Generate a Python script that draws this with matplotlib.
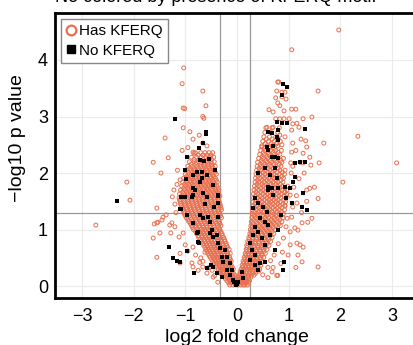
import numpy as np
import matplotlib.pyplot as plt
from matplotlib.lines import Line2D

plt.rcParams['font.family'] = ['Liberation Sans', 'DejaVu Sans']

# dense part of the left arm, read row by row: (y, x values)
left_core = [
    (0.02, [-0.14, -0.08, -0.03, 0.02, 0.07, 0.12]),
    (0.09, [-0.19, -0.13, -0.07, -0.01, 0.05, 0.10]),
    (0.16, [-0.25, -0.19, -0.13, -0.07, -0.02]),
    (0.23, [-0.31, -0.25, -0.19, -0.13, -0.07]),
    (0.30, [-0.36, -0.30, -0.24, -0.18, -0.12, -0.07]),
    (0.37, [-0.41, -0.35, -0.29, -0.23, -0.17, -0.11]),
    (0.44, [-0.47, -0.41, -0.34, -0.28, -0.22, -0.16, -0.11]),
    (0.51, [-0.52, -0.45, -0.39, -0.33, -0.27, -0.21, -0.14]),
    (0.58, [-0.56, -0.50, -0.44, -0.37, -0.31, -0.25, -0.18, -0.13]),
    (0.65, [-0.60, -0.54, -0.47, -0.41, -0.35, -0.29, -0.22, -0.15]),
    (0.72, [-0.64, -0.58, -0.52, -0.45, -0.39, -0.33, -0.27, -0.20]),
    (0.79, [-0.69, -0.62, -0.55, -0.49, -0.43, -0.36, -0.30, -0.23]),
    (0.86, [-0.74, -0.67, -0.60, -0.53, -0.47, -0.40, -0.33, -0.26]),
    (0.93, [-0.78, -0.71, -0.64, -0.58, -0.51, -0.44, -0.37, -0.29]),
    (1.00, [-0.84, -0.76, -0.69, -0.62, -0.55, -0.48, -0.41, -0.33]),
    (1.07, [-0.88, -0.81, -0.73, -0.66, -0.59, -0.52, -0.45, -0.38, -0.31]),
    (1.14, [-0.93, -0.86, -0.78, -0.70, -0.63, -0.56, -0.49, -0.42, -0.34]),
    (1.21, [-0.98, -0.90, -0.82, -0.75, -0.67, -0.60, -0.53, -0.45, -0.37, -0.30]),
    (1.28, [-1.02, -0.94, -0.86, -0.79, -0.71, -0.64, -0.56, -0.49, -0.41, -0.33]),
    (1.35, [-1.05, -0.97, -0.89, -0.82, -0.74, -0.67, -0.59, -0.52, -0.44, -0.36, -0.30]),
    (1.42, [-1.08, -1.00, -0.92, -0.84, -0.77, -0.70, -0.62, -0.55, -0.47, -0.39, -0.32]),
    (1.49, [-1.10, -1.02, -0.94, -0.87, -0.79, -0.72, -0.65, -0.57, -0.50, -0.42, -0.34]),
    (1.56, [-1.12, -1.04, -0.96, -0.88, -0.81, -0.74, -0.66, -0.59, -0.52, -0.44, -0.36]),
    (1.63, [-1.11, -1.03, -0.95, -0.87, -0.80, -0.72, -0.65, -0.58, -0.50, -0.42, -0.35]),
    (1.70, [-1.09, -1.01, -0.93, -0.86, -0.78, -0.71, -0.63, -0.56, -0.48, -0.41, -0.35]),
    (1.77, [-1.07, -0.99, -0.91, -0.84, -0.76, -0.69, -0.61, -0.54, -0.47, -0.39]),
    (1.84, [-1.05, -0.97, -0.89, -0.82, -0.74, -0.67, -0.60, -0.52, -0.45, -0.38]),
    (1.91, [-1.03, -0.95, -0.87, -0.79, -0.72, -0.65, -0.57, -0.50, -0.42]),
    (1.98, [-1.00, -0.92, -0.84, -0.77, -0.69, -0.62, -0.54, -0.47, -0.40]),
    (2.05, [-0.98, -0.89, -0.81, -0.73, -0.66, -0.58, -0.51, -0.44]),
    (2.12, [-0.95, -0.86, -0.78, -0.70, -0.63, -0.55, -0.48, -0.42]),
    (2.20, [-0.92, -0.83, -0.74, -0.66, -0.58, -0.50, -0.44]),
    (2.28, [-0.88, -0.78, -0.69, -0.60, -0.52, -0.45]),
    (2.36, [-0.80, -0.70, -0.62, -0.54, -0.47]),
]

# in-between rows of the left arm
left_core_b = [
    (0.055, [-0.16, -0.11, -0.05, 0.00, 0.05, 0.10]),
    (0.125, [-0.22, -0.16, -0.10, -0.04, 0.02, 0.08]),
    (0.195, [-0.28, -0.22, -0.16, -0.10, -0.04]),
    (0.265, [-0.33, -0.27, -0.21, -0.15, -0.09]),
    (0.335, [-0.39, -0.33, -0.27, -0.21, -0.15, -0.09]),
    (0.405, [-0.44, -0.38, -0.32, -0.26, -0.20, -0.14]),
    (0.475, [-0.49, -0.43, -0.37, -0.31, -0.25, -0.19, -0.13]),
    (0.545, [-0.54, -0.48, -0.42, -0.36, -0.30, -0.24, -0.17]),
    (0.615, [-0.58, -0.52, -0.46, -0.39, -0.33, -0.27, -0.20]),
    (0.685, [-0.62, -0.56, -0.50, -0.43, -0.37, -0.31, -0.24, -0.18]),
    (0.755, [-0.66, -0.60, -0.53, -0.47, -0.41, -0.34, -0.28, -0.21]),
    (0.825, [-0.71, -0.64, -0.57, -0.51, -0.44, -0.37, -0.31, -0.24]),
    (0.895, [-0.75, -0.68, -0.62, -0.55, -0.48, -0.42, -0.35, -0.28]),
    (0.965, [-0.80, -0.73, -0.66, -0.60, -0.53, -0.46, -0.39, -0.31]),
    (1.035, [-0.86, -0.79, -0.72, -0.65, -0.58, -0.51, -0.44, -0.36]),
    (1.105, [-0.90, -0.83, -0.76, -0.68, -0.61, -0.54, -0.47, -0.40, -0.33]),
    (1.175, [-0.95, -0.88, -0.80, -0.72, -0.65, -0.58, -0.51, -0.44, -0.36]),
    (1.245, [-1.00, -0.92, -0.84, -0.77, -0.69, -0.62, -0.55, -0.47, -0.40, -0.32]),
    (1.315, [-1.03, -0.95, -0.88, -0.80, -0.73, -0.66, -0.58, -0.51, -0.43, -0.35]),
    (1.385, [-1.06, -0.98, -0.91, -0.83, -0.76, -0.68, -0.61, -0.53, -0.46, -0.38, -0.31]),
    (1.455, [-1.09, -1.01, -0.93, -0.86, -0.78, -0.71, -0.63, -0.56, -0.48, -0.40, -0.33]),
    (1.525, [-1.11, -1.03, -0.95, -0.88, -0.80, -0.73, -0.66, -0.58, -0.51, -0.43, -0.35]),
    (1.595, [-1.07, -1.00, -0.92, -0.84, -0.77, -0.70, -0.62, -0.55, -0.48, -0.40, -0.33]),
    (1.665, [-1.05, -0.97, -0.90, -0.82, -0.75, -0.68, -0.60, -0.53, -0.45, -0.38]),
    (1.735, [-1.03, -0.95, -0.88, -0.80, -0.73, -0.65, -0.58, -0.51, -0.43, -0.36]),
    (1.805, [-1.01, -0.93, -0.86, -0.78, -0.71, -0.64, -0.56, -0.49, -0.42]),
    (1.875, [-0.99, -0.91, -0.84, -0.76, -0.69, -0.62, -0.54, -0.47, -0.40]),
    (1.945, [-0.97, -0.89, -0.81, -0.74, -0.67, -0.59, -0.52, -0.45]),
    (2.015, [-0.94, -0.86, -0.78, -0.71, -0.63, -0.56, -0.49, -0.42]),
    (2.085, [-0.91, -0.83, -0.75, -0.67, -0.60, -0.53, -0.46]),
    (2.160, [-0.88, -0.80, -0.71, -0.63, -0.56, -0.49]),
    (2.240, [-0.83, -0.74, -0.65, -0.56, -0.49]),
    (2.320, [-0.75, -0.66, -0.58, -0.50]),
]

# dense part of the right arm
right_core = [
    (0.02, [0.15, 0.20]),
    (0.09, [0.14, 0.19, 0.24]),
    (0.16, [0.04, 0.09, 0.15, 0.21, 0.27]),
    (0.23, [0.06, 0.12, 0.18, 0.24, 0.30, 0.36]),
    (0.30, [0.08, 0.14, 0.20, 0.26, 0.32, 0.38, 0.44]),
    (0.37, [0.10, 0.16, 0.22, 0.28, 0.34, 0.40, 0.46]),
    (0.44, [0.12, 0.18, 0.24, 0.30, 0.36, 0.42, 0.49]),
    (0.51, [0.14, 0.20, 0.26, 0.32, 0.38, 0.45, 0.52]),
    (0.58, [0.16, 0.22, 0.28, 0.34, 0.41, 0.48, 0.55]),
    (0.65, [0.18, 0.24, 0.30, 0.37, 0.44, 0.51, 0.58]),
    (0.72, [0.19, 0.26, 0.33, 0.40, 0.47, 0.54, 0.62]),
    (0.79, [0.21, 0.28, 0.35, 0.42, 0.49, 0.57, 0.65]),
    (0.86, [0.23, 0.30, 0.37, 0.44, 0.52, 0.60, 0.68]),
    (0.93, [0.25, 0.32, 0.39, 0.47, 0.55, 0.63, 0.71]),
    (1.00, [0.26, 0.33, 0.41, 0.49, 0.57, 0.65, 0.74]),
    (1.07, [0.27, 0.35, 0.43, 0.51, 0.59, 0.67, 0.76, 0.84]),
    (1.14, [0.28, 0.36, 0.44, 0.52, 0.61, 0.69, 0.78, 0.87]),
    (1.21, [0.29, 0.37, 0.45, 0.54, 0.62, 0.71, 0.80, 0.89]),
    (1.28, [0.30, 0.38, 0.46, 0.55, 0.63, 0.72, 0.81, 0.90]),
    (1.35, [0.30, 0.38, 0.47, 0.56, 0.64, 0.73, 0.82, 0.92]),
    (1.42, [0.31, 0.39, 0.48, 0.57, 0.65, 0.74, 0.83, 0.93]),
    (1.49, [0.31, 0.40, 0.49, 0.58, 0.66, 0.75, 0.84, 0.94]),
    (1.56, [0.32, 0.40, 0.49, 0.58, 0.67, 0.76, 0.85, 0.95]),
    (1.63, [0.32, 0.41, 0.50, 0.59, 0.68, 0.77, 0.86, 0.96]),
    (1.70, [0.33, 0.42, 0.51, 0.60, 0.69, 0.78, 0.87, 0.97]),
    (1.77, [0.34, 0.42, 0.51, 0.60, 0.69, 0.78, 0.88, 0.98]),
    (1.84, [0.35, 0.43, 0.52, 0.61, 0.70, 0.79, 0.89]),
    (1.91, [0.36, 0.44, 0.53, 0.62, 0.71, 0.80, 0.90]),
    (1.98, [0.37, 0.45, 0.54, 0.63, 0.72, 0.82, 0.92]),
    (2.05, [0.38, 0.46, 0.55, 0.64, 0.73, 0.83, 0.93]),
    (2.12, [0.39, 0.47, 0.56, 0.65, 0.75, 0.85]),
    (2.19, [0.40, 0.49, 0.58, 0.67, 0.77, 0.87]),
    (2.26, [0.42, 0.51, 0.60, 0.70, 0.80, 0.90]),
    (2.33, [0.44, 0.53, 0.62, 0.72, 0.83]),
    (2.40, [0.46, 0.55, 0.65, 0.75, 0.86]),
    (2.48, [0.48, 0.58, 0.68, 0.79]),
    (2.56, [0.50, 0.61, 0.72, 0.84]),
    (2.64, [0.52, 0.63, 0.75]),
    (2.72, [0.54, 0.66, 0.79]),
    (2.80, [0.56, 0.68, 0.82]),
]

# in-between rows of the right arm
right_core_b = [
    (0.055, [0.12, 0.17, 0.22]),
    (0.125, [0.06, 0.12, 0.17, 0.22]),
    (0.195, [0.05, 0.10, 0.16, 0.22, 0.28, 0.33]),
    (0.265, [0.07, 0.13, 0.19, 0.25, 0.31, 0.37, 0.42]),
    (0.335, [0.11, 0.17, 0.23, 0.29, 0.35, 0.41]),
    (0.405, [0.13, 0.19, 0.25, 0.31, 0.37, 0.43]),
    (0.475, [0.15, 0.21, 0.27, 0.33, 0.39, 0.46]),
    (0.545, [0.17, 0.23, 0.29, 0.35, 0.42, 0.49]),
    (0.615, [0.19, 0.25, 0.31, 0.38, 0.45, 0.52]),
    (0.685, [0.20, 0.27, 0.34, 0.41, 0.48, 0.55]),
    (0.755, [0.22, 0.29, 0.36, 0.43, 0.51, 0.59]),
    (0.825, [0.24, 0.31, 0.38, 0.46, 0.54, 0.62]),
    (0.895, [0.26, 0.33, 0.41, 0.49, 0.57, 0.65]),
    (0.965, [0.28, 0.36, 0.44, 0.52, 0.60, 0.68]),
    (1.035, [0.30, 0.38, 0.46, 0.54, 0.62, 0.70, 0.79]),
    (1.105, [0.31, 0.39, 0.47, 0.56, 0.64, 0.72, 0.81]),
    (1.175, [0.32, 0.40, 0.49, 0.57, 0.66, 0.74, 0.83]),
    (1.245, [0.33, 0.41, 0.50, 0.58, 0.67, 0.76, 0.85]),
    (1.315, [0.34, 0.42, 0.51, 0.59, 0.68, 0.77, 0.86]),
    (1.385, [0.34, 0.43, 0.52, 0.60, 0.69, 0.78, 0.87]),
    (1.455, [0.35, 0.44, 0.53, 0.62, 0.70, 0.79, 0.89]),
    (1.525, [0.35, 0.44, 0.53, 0.62, 0.71, 0.80, 0.90]),
    (1.595, [0.36, 0.45, 0.54, 0.63, 0.72, 0.81, 0.91]),
    (1.665, [0.37, 0.46, 0.55, 0.64, 0.73, 0.82, 0.92]),
    (1.735, [0.38, 0.47, 0.56, 0.65, 0.74, 0.83, 0.93]),
    (1.805, [0.39, 0.48, 0.57, 0.66, 0.75, 0.84]),
    (1.875, [0.40, 0.49, 0.58, 0.67, 0.76, 0.85]),
    (1.945, [0.41, 0.50, 0.59, 0.68, 0.77, 0.87]),
    (2.015, [0.42, 0.51, 0.60, 0.69, 0.78, 0.88]),
    (2.085, [0.43, 0.52, 0.61, 0.70, 0.80]),
    (2.155, [0.45, 0.54, 0.63, 0.72, 0.82]),
    (2.225, [0.47, 0.56, 0.65, 0.75, 0.85]),
    (2.295, [0.49, 0.58, 0.67, 0.77]),
    (2.365, [0.51, 0.60, 0.70, 0.80]),
    (2.440, [0.53, 0.63, 0.73]),
    (2.520, [0.55, 0.66, 0.77]),
    (2.600, [0.57, 0.68, 0.80]),
]

# scattered "Has KFERQ" points (x, y)
has_left_sparse = [
    (-1.03, 3.86), (-1.06, 3.58), (-0.66, 3.45), (-1.04, 3.15), (-1.01, 3.14),
    (-0.60, 3.19), (-0.64, 2.97), (-0.66, 3.00), (-1.04, 2.80), (-0.91, 2.73),
    (-1.39, 2.62), (-0.73, 2.67), (-0.85, 2.60), (-0.66, 2.53), (-1.06, 2.40),
    (-1.33, 2.27), (-1.62, 2.19), (-0.95, 2.45), (-0.58, 2.48), (-0.85, 2.37),
    (-0.83, 2.35), (-1.47, 2.00), (-1.16, 1.80), (-1.10, 1.88), (-2.13, 1.84),
    (-2.07, 1.52), (-2.73, 1.08), (-1.62, 0.85), (-1.60, 1.10), (-1.55, 1.38),
    (-1.55, 1.12), (-1.53, 1.13), (-1.45, 1.17), (-1.43, 1.22), (-1.37, 1.26),
    (-1.30, 1.08), (-1.26, 1.12), (-1.20, 1.05), (-1.49, 0.94), (-1.28, 0.94),
    (-1.55, 0.51), (-1.10, 0.58), (-1.00, 0.73), (-0.85, 0.69), (-0.87, 0.41),
    (-0.75, 0.28), (-0.66, 0.34), (-0.58, 0.23), (-0.72, 0.42), (-0.66, 0.44),
    (-1.10, 0.41), (-1.12, 0.87), (-1.04, 0.94), (-0.52, 0.34), (-0.48, 0.28),
    (-0.46, 0.16), (-0.85, 0.34), (-0.56, 0.32), (-0.43, 0.19), (-0.37, 0.07),
    (-0.33, 0.23), (-1.20, 1.45), (-1.25, 1.58), (-1.18, 1.30), (-0.95, 0.62),
    (-0.80, 0.55), (-0.70, 0.50), (-0.62, 0.60), (-1.15, 2.05), (-1.22, 1.70),
]

has_right_sparse = [
    (1.97, 4.53), (1.06, 4.18), (0.81, 3.61), (1.57, 3.45), (2.34, 2.65),
    (3.09, 2.18), (1.45, 2.99), (1.68, 2.53), (1.28, 2.96), (2.05, 1.84),
    (0.79, 3.61), (0.77, 3.45), (0.75, 3.33), (0.62, 3.12), (0.70, 3.08),
    (0.87, 3.43), (0.93, 3.43), (0.87, 3.35), (0.95, 3.31), (0.79, 3.24),
    (0.83, 3.19), (0.91, 3.10), (1.06, 3.13), (1.14, 3.13), (0.75, 2.96),
    (0.83, 2.96), (0.91, 2.96), (1.01, 2.96), (1.08, 2.87), (1.16, 2.88),
    (1.20, 2.81), (0.58, 2.81), (0.70, 2.81), (1.06, 2.76), (0.83, 2.67),
    (0.93, 2.64), (1.24, 2.60), (1.33, 2.57), (0.48, 2.46), (0.77, 2.53),
    (0.87, 2.50), (1.08, 2.53), (1.35, 2.46), (1.06, 2.37), (1.14, 2.40),
    (1.28, 2.35), (1.41, 2.28), (1.59, 2.18), (1.43, 2.14), (1.22, 2.19),
    (1.28, 2.18), (1.04, 2.18), (1.08, 2.12), (1.45, 1.20), (1.37, 1.13),
    (1.16, 0.76), (1.22, 0.73), (1.28, 0.69), (1.18, 0.55), (0.99, 0.55),
    (1.03, 0.73), (0.77, 0.19), (0.60, 0.33), (0.68, 0.25), (1.26, 0.43),
    (1.03, 0.96), (1.12, 1.03), (1.18, 0.99), (1.26, 1.12), (0.97, 1.20),
    (1.06, 1.22), (0.93, 1.43), (1.08, 1.40), (1.16, 1.47), (1.03, 1.61),
    (0.93, 1.66), (1.41, 1.73), (1.35, 1.70), (1.57, 1.55), (1.50, 1.75),
    (1.57, 0.34), (1.14, 0.33), (0.79, 0.19), (0.70, 0.33), (0.88, 0.60),
    (0.80, 0.75), (0.90, 0.85), (0.95, 1.05), (1.10, 1.75), (1.20, 1.90),
    (1.30, 2.00), (1.05, 2.00), (1.15, 1.60), (1.25, 1.30), (1.35, 1.50),
    (0.60, 0.15), (0.50, 0.20), (0.65, 0.45), (0.72, 0.55), (0.85, 0.40),
]

# "No KFERQ" points (x, y)
no_left = [
    (-1.20, 2.96), (-2.32, 1.50), (-0.60, 2.72), (-0.60, 2.69), (-0.97, 2.28),
    (-0.73, 2.44), (-1.32, 0.69), (-1.24, 0.50), (-1.16, 0.44), (-0.97, 0.62),
    (-0.83, 0.23), (-0.73, 0.76), (-1.08, 1.36), (-0.77, 0.94), (-1.10, 0.42),
    (-0.66, 2.53), (-0.72, 2.23), (-0.64, 2.21), (-0.54, 2.25), (-0.43, 2.05),
    (-0.68, 2.02), (-1.00, 2.05), (-0.85, 1.96), (-0.58, 1.96), (-0.72, 1.84),
    (-0.99, 1.89), (-0.46, 1.79), (-0.85, 1.73), (-0.81, 1.70), (-0.37, 1.59),
    (-0.58, 1.58), (-1.08, 1.58), (-0.87, 1.58), (-1.00, 1.58), (-0.85, 1.61),
    (-0.66, 1.65), (-0.37, 1.61), (-0.37, 1.47), (-0.97, 1.26), (-0.72, 1.26),
    (-0.66, 1.20), (-0.56, 1.22), (-0.52, 1.13), (-0.37, 1.22), (-0.85, 1.12),
    (-0.75, 0.96), (-0.52, 0.94), (-0.46, 0.87), (-0.37, 0.76), (-0.33, 0.67),
    (-0.29, 0.51), (-0.27, 0.42), (-0.19, 0.28), (-0.14, 0.19), (-0.08, 0.11),
    (-0.02, 0.02), (-0.58, 0.32), (-0.46, 0.34), (-0.39, 0.23), (-0.29, 0.16),
    (-0.77, 2.02), (-0.68, 1.91), (-1.10, 1.36), (-0.75, 0.78), (-0.48, 0.99),
    (-0.39, 0.90), (-0.50, 0.37), (-0.23, 0.64), (-0.19, 0.51), (-0.14, 0.41),
    (-0.10, 0.28), (-0.05, 0.07), (0.00, 0.04), (-0.45, 1.40), (-0.62, 1.45),
]

no_right = [
    (0.89, 3.58), (0.97, 3.52), (1.31, 2.78), (0.91, 0.43), (0.89, 0.28),
    (0.45, 0.41), (0.54, 0.43), (1.26, 1.40), (1.28, 1.65), (1.35, 1.35),
    (0.87, 3.38), (0.77, 2.90), (0.87, 2.88), (0.97, 2.88), (0.60, 2.73),
    (0.68, 2.71), (0.79, 2.76), (0.77, 2.64), (0.79, 2.58), (0.58, 2.46),
    (0.60, 2.41), (0.70, 2.48), (0.68, 2.28), (0.73, 2.28), (0.79, 2.27),
    (1.22, 2.19), (1.31, 2.19), (1.12, 2.18), (0.54, 2.09), (0.73, 2.09),
    (0.41, 2.00), (0.64, 1.96), (0.77, 1.91), (1.12, 1.93), (1.08, 1.84),
    (0.93, 1.75), (1.03, 1.73), (0.60, 1.75), (0.68, 1.73), (0.79, 1.73),
    (0.35, 1.56), (0.41, 1.47), (0.31, 1.38), (0.50, 1.40), (0.58, 1.31),
    (0.54, 1.13), (0.60, 1.08), (0.35, 1.04), (0.41, 0.96), (0.31, 0.90),
    (0.48, 0.85), (0.54, 0.73), (0.25, 0.76), (0.29, 0.64), (0.35, 0.55),
    (0.25, 0.46), (0.35, 0.37), (0.41, 0.28), (0.10, 0.25), (0.12, 0.14),
    (0.02, 0.07), (0.79, 0.99), (0.64, 0.90), (0.73, 0.64), (1.06, 1.47),
    (0.60, 1.70), (0.70, 1.61), (0.85, 1.25), (0.95, 1.55), (0.45, 1.20),
]

fc_cut = [-0.32, 0.26]
p_cut = 1.3

has_x, has_y = [], []
for y, xs in left_core + left_core_b + right_core + right_core_b:
    has_x += xs
    has_y += [y] * len(xs)
for x, y in has_left_sparse + has_right_sparse:
    has_x.append(x)
    has_y.append(y)
no_pts = np.array(no_left + no_right)

orange = '#E8704F'

fig = plt.figure(figsize=(4.13, 3.45), dpi=100)
ax = fig.add_axes([0.1332, 0.1362, 0.881, 0.826])

ax.scatter(has_x, has_y, s=8, facecolors='none', edgecolors=orange, linewidths=0.7, zorder=3)
ax.scatter(no_pts[:, 0], no_pts[:, 1], s=7, marker='s', c='black', linewidths=0, zorder=4)

for v in fc_cut:
    ax.axvline(v, color='#999999', lw=0.9, zorder=2)
ax.axhline(p_cut, color='#999999', lw=0.9, zorder=2)

ax.set_xlim(-3.52, 3.52)
ax.set_ylim(-0.21, 4.83)
ax.set_xticks([-3, -2, -1, 0, 1, 2, 3])
ax.set_yticks([0, 1, 2, 3, 4])
ax.grid(True, color='#ebebeb', lw=0.8, zorder=0)
ax.set_axisbelow(True)
ax.tick_params(length=0, labelsize=13, colors='black')
ax.tick_params(axis='x', pad=7)
ax.tick_params(axis='y', pad=5)
for side in ['left', 'top', 'bottom', 'right']:
    ax.spines[side].set_linewidth(2)

ax.set_xlabel('log2 fold change', fontsize=14, labelpad=3)
ax.set_ylabel('\u2212log10 p value', fontsize=14)
ax.yaxis.set_label_coords(-0.08, 0.56)

handles = [
    Line2D([], [], marker='o', ls='none', mfc='none', mec=orange, mew=1.6, ms=7),
    Line2D([], [], marker='s', ls='none', mfc='black', mec='black', ms=6),
]
leg = ax.legend(handles, ['Has KFERQ', 'No KFERQ'], loc='upper left',
                bbox_to_anchor=(0.0165, 0.979), borderaxespad=0, fontsize=11,
                handlelength=0.6, handletextpad=0.2, labelspacing=0.35,
                borderpad=0.35, fancybox=False, framealpha=1, edgecolor='#888888')
leg.get_frame().set_linewidth(1)

fig.text(55 / 413, 1 - 2.5 / 345, 'No colored by presence of KFERQ motif',
         fontsize=13, va='baseline', ha='left')

fig.savefig('out.png', dpi=100)
